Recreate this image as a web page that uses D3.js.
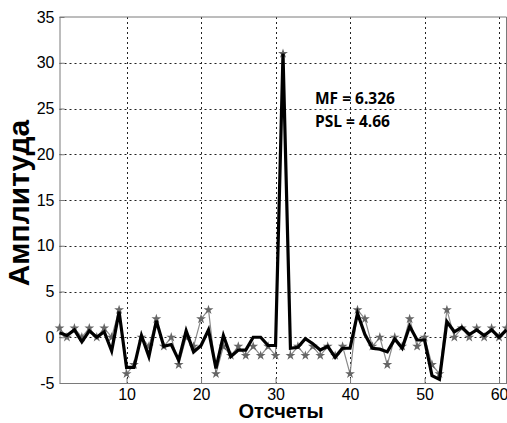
<!DOCTYPE html>
<html>
<head>
<meta charset="utf-8">
<script src="https://cdn.jsdelivr.net/npm/d3@7"></script>
<style>
  body { margin: 0; background: #fff; }
  svg { display: block; }
</style>
</head>
<body>
<div id="chart"></div>
<script>
// aperiodic ACF (gray, star markers), left half, mirrored about the peak
const acfLeft = [1, 0, 1, 0, 1, 0, 1, 0, 3, -4, -3, 0, -1, 2, -1, 0, -3, 0, -1, 2, 3, -4, -1, -2, -1, -2, -1, -2, -1, -2];
const acfPeak = 31;
// mismatched filter output (thick black)
const mfOut = [0.5, 0.2, 0.8, -0.5, 0.7, 0, 0.6, -1.5, 2.8, -3.3, -3.3, 0.2, -2.1, 1.8, -1.0, -0.8, -2.5, 0.7, -1.6, -0.9,
    0.8, -3.4, 0.2, -2.1, -1.4, -1.4, 0, 0, -0.9, -0.9, 31, -1.2, -1.1, -0.15, -0.7, -1.4, -1.0, -2.2, -1.2, -1.2,
    2.6, 0.3, -1.2, -1.3, -1.6, -0.2, -1.2, 1.2, -0.3, -0.3, -4.2, -4.6, 1.7, 0.6, 1.1, 0.3, 0.8, 0.2, 0.8, 0.0, 0.8];
const xTicks = [10, 20, 30, 40, 50, 60];
const yTicks = [-5, 0, 5, 10, 15, 20, 25, 30, 35];
const notes = ["MF = 6.326", "PSL = 4.66"];

const acf = acfLeft.concat([acfPeak], acfLeft.slice().reverse());
const grayData = acf.map((v, i) => ({ n: i + 1, v: v }));
const blackData = mfOut.map((v, i) => ({ n: i + 1, v: v }));

const width = 507, height = 423;
const margins = { top: 17, right: 0.5, bottom: 40, left: 59.5 };

const svg = d3.select("#chart")
    .append("svg")
    .attr("width", width)
    .attr("height", height)
    .style("font-family", "'Liberation Sans', Arial, sans-serif");

const x = d3.scaleLinear().domain([1, 61]).range([margins.left, width - margins.right]);
const y = d3.scaleLinear().domain([-5, 35]).range([height - margins.bottom, margins.top]);

// grid
svg.append("g")
    .selectAll("line")
    .data(xTicks)
    .join("line")
    .attr("x1", d => Math.round(x(d)) + 0.5).attr("x2", d => Math.round(x(d)) + 0.5)
    .attr("y1", y(35)).attr("y2", y(-5))
    .attr("stroke", "#222").attr("stroke-width", 1).attr("stroke-dasharray", "2,3");
svg.append("g")
    .selectAll("line")
    .data(yTicks.slice(1, -1))
    .join("line")
    .attr("y1", d => Math.round(y(d)) + 0.5).attr("y2", d => Math.round(y(d)) + 0.5)
    .attr("x1", x(1)).attr("x2", x(61))
    .attr("stroke", "#222").attr("stroke-width", 1).attr("stroke-dasharray", "2,3");

// axes
const gx = svg.append("g")
    .attr("transform", `translate(0,${y(-5)})`)
    .call(d3.axisBottom(x).tickValues(xTicks).tickFormat(d => String(d))
        .tickSizeInner(-5).tickSizeOuter(0).tickPadding(6));
const gy = svg.append("g")
    .attr("transform", `translate(${x(1)},0)`)
    .call(d3.axisLeft(y).tickValues(yTicks).tickFormat(d => String(d))
        .tickSizeInner(-5).tickSizeOuter(0).tickPadding(5));
[gx, gy].forEach(g => {
    g.select(".domain").attr("stroke", "#7a7a7a");
    g.selectAll(".tick line").attr("stroke", "#7a7a7a");
    g.selectAll("text").attr("font-size", 16).attr("fill", "#000")
        .style("font-family", "'Liberation Sans', Arial, sans-serif");
});
// top and right border
svg.append("path")
    .attr("d", `M${x(1)},${y(35)}H${x(61)}V${y(-5)}`)
    .attr("fill", "none").attr("stroke", "#7a7a7a");

const line = d3.line()
    .x(d => x(d.n))
    .y(d => y(d.v));

svg.append("path")
    .datum(grayData)
    .attr("d", line)
    .attr("fill", "none")
    .attr("stroke", "#8a8a8a")
    .attr("stroke-width", 1.2);

svg.append("g")
    .selectAll("path")
    .data(grayData)
    .join("path")
    .attr("transform", d => `translate(${x(d.n)},${y(d.v)})`)
    .attr("d", d3.symbol(d3.symbolStar, 30))
    .attr("fill", "#666");

svg.append("path")
    .datum(blackData)
    .attr("d", line)
    .attr("fill", "none")
    .attr("stroke", "#000")
    .attr("stroke-width", 3.2)
    .attr("stroke-linejoin", "miter");

// annotation
svg.append("g")
    .selectAll("text")
    .data(notes)
    .join("text")
    .attr("x", 315)
    .attr("y", (d, i) => 104 + i * 23)
    .attr("font-size", 15.5)
    .attr("font-weight", 700)
    .style("font-family", "'Open Sans', sans-serif")
    .text(d => d);

// axis labels
svg.append("text")
    .attr("x", (x(1) + x(61)) / 2 - 2)
    .attr("y", 418)
    .attr("text-anchor", "middle")
    .attr("font-size", 20)
    .attr("font-weight", 700)
    .text("Отсчеты");
svg.append("text")
    .attr("transform", "translate(29,203) rotate(-90)")
    .attr("text-anchor", "middle")
    .attr("font-size", 30)
    .attr("font-weight", 700)
    .text("Амплитуда");
</script>
</body>
</html>
